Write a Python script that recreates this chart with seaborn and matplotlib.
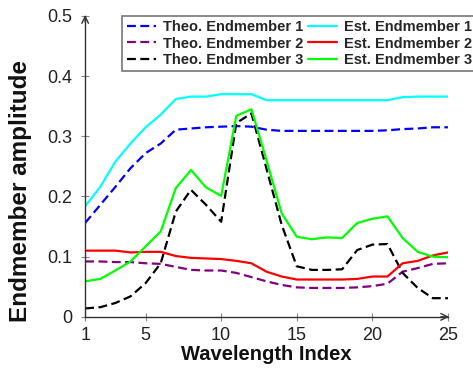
import numpy as np
import pandas as pd
import matplotlib
matplotlib.use("Agg")
import matplotlib.pyplot as plt
import seaborn as sns

wavelength = list(range(1, 26))

theo_1 = [0.156, 0.186, 0.216, 0.247, 0.272, 0.288, 0.311, 0.313, 0.315, 0.316,
          0.317, 0.316, 0.311, 0.309, 0.309, 0.309, 0.309, 0.309, 0.309, 0.309,
          0.310, 0.312, 0.313, 0.315, 0.315]
theo_2 = [0.092, 0.092, 0.091, 0.091, 0.089, 0.088, 0.083, 0.078, 0.077, 0.077,
          0.073, 0.066, 0.059, 0.053, 0.049, 0.048, 0.048, 0.048, 0.049, 0.051,
          0.055, 0.075, 0.081, 0.088, 0.089]
theo_3 = [0.014, 0.016, 0.023, 0.034, 0.056, 0.089, 0.175, 0.211, 0.186, 0.158,
          0.322, 0.338, 0.246, 0.153, 0.084, 0.078, 0.078, 0.079, 0.111, 0.120,
          0.121, 0.073, 0.048, 0.031, 0.031]
est_1 = [0.184, 0.216, 0.258, 0.288, 0.315, 0.336, 0.362, 0.366, 0.366, 0.370,
         0.370, 0.370, 0.360, 0.360, 0.360, 0.360, 0.360, 0.360, 0.360, 0.360,
         0.360, 0.365, 0.366, 0.366, 0.366]
est_2 = [0.110, 0.110, 0.110, 0.107, 0.108, 0.108, 0.101, 0.098, 0.097, 0.096,
         0.093, 0.089, 0.075, 0.067, 0.062, 0.062, 0.062, 0.062, 0.063, 0.067,
         0.067, 0.089, 0.093, 0.102, 0.107]
est_3 = [0.059, 0.063, 0.077, 0.092, 0.117, 0.142, 0.214, 0.244, 0.215, 0.201,
         0.334, 0.345, 0.260, 0.172, 0.133, 0.129, 0.132, 0.131, 0.156, 0.163,
         0.167, 0.131, 0.108, 0.100, 0.099]

x_ticks = [1, 5, 10, 15, 20, 25]
y_ticks = [0, 0.1, 0.2, 0.3, 0.4, 0.5]
y_tick_labels = ["0", "0.1", "0.2", "0.3", "0.4", "0.5"]

sns.set_theme(style="white")
plt.rcParams["font.family"] = ["Liberation Sans", "DejaVu Sans"]

fig = plt.figure(figsize=(4.73, 3.71), dpi=100)
ax = fig.add_axes([0.180, 0.146, 0.767, 0.811])

dashed = (0, (4, 2))
series = [
    ("Theo. Endmember 1", theo_1, "#0000ff", dashed),
    ("Theo. Endmember 2", theo_2, "#800080", dashed),
    ("Theo. Endmember 3", theo_3, "#000000", dashed),
    ("Est. Endmember 1", est_1, "#00ffff", "-"),
    ("Est. Endmember 2", est_2, "#ff0000", "-"),
    ("Est. Endmember 3", est_3, "#00ff00", "-"),
]
for name, vals, color, ls in series:
    sns.lineplot(x=wavelength, y=vals, ax=ax, color=color, linestyle=ls,
                 linewidth=1.6, label=name)

ax.set_xlim(1, 25)
ax.set_ylim(0, 0.5)
ax.set_xticks(x_ticks)
ax.set_yticks(y_ticks)
ax.set_yticklabels(y_tick_labels)
ax.tick_params(axis="both", which="major", direction="inout", length=6,
               width=0.8, color="#888888", labelsize=13, pad=4,
               labelcolor="#222222", bottom=True, left=True)
ax.tick_params(axis="y", pad=6)

for side in ("top", "right"):
    ax.spines[side].set_visible(False)
for side in ("left", "bottom"):
    ax.spines[side].set_color("#333333")
    ax.spines[side].set_linewidth(1.0)

# arrow heads on the two axis lines
ax.annotate("", xy=(1.003, 0), xytext=(0.98, 0), xycoords="axes fraction",
            arrowprops=dict(arrowstyle="->", color="#333333", lw=1.0,
                            shrinkA=0, shrinkB=0), annotation_clip=False)
ax.annotate("", xy=(0, 1.003), xytext=(0, 0.98), xycoords="axes fraction",
            arrowprops=dict(arrowstyle="->", color="#333333", lw=1.0,
                            shrinkA=0, shrinkB=0), annotation_clip=False)

ax.set_xlabel("Wavelength Index", fontsize=14.5, fontweight="bold",
              color="#111111", labelpad=1)
ax.set_ylabel("Endmember amplitude", fontsize=17.5, fontweight="bold",
              color="#111111")
ax.yaxis.set_label_coords(-0.147, 0.418)

leg = ax.legend(loc="upper left", bbox_to_anchor=(0.102, 1.0), ncol=2,
                prop={"weight": "bold", "size": 10.5}, frameon=True,
                fancybox=False, edgecolor="#555555", handlelength=2.0,
                handletextpad=0.5, columnspacing=0.3, labelspacing=0.15,
                borderpad=0.3, borderaxespad=0)
leg.get_frame().set_linewidth(1.2)

fig.savefig("out.png", dpi=100)
